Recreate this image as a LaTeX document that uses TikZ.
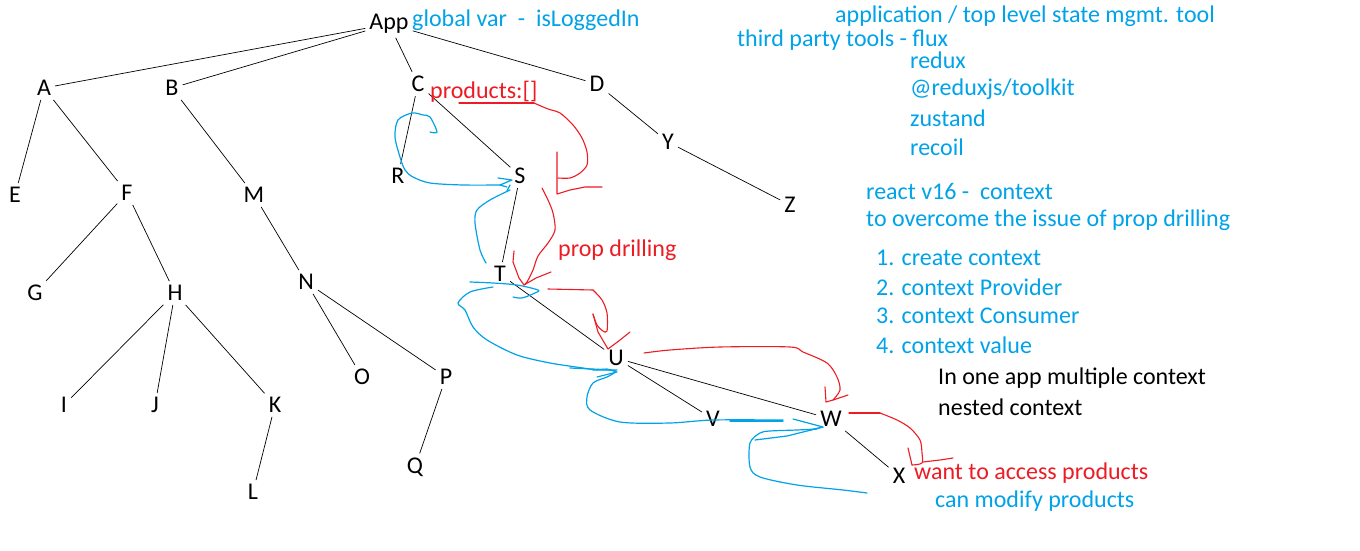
\documentclass[tikz,border=0pt]{standalone}
\usepackage{fontspec}
\setmainfont{Carlito}
\definecolor{pblue}{HTML}{00A2E8}
\definecolor{pred}{HTML}{ED1C24}
\begin{document}
\begin{tikzpicture}[x=1pt,y=-1pt,
  lt/.style={inner sep=4pt, font=\fontsize{24}{28}\selectfont},
  edge/.style={black, line width=0.7pt},
  bt/.style={anchor=west, inner sep=0pt, text=pblue, font=\fontsize{24}{28}\selectfont},
  rt/.style={anchor=west, inner sep=0pt, text=pred, font=\fontsize{24}{28}\selectfont},
  kt/.style={anchor=west, inner sep=0pt, text=black, font=\fontsize{24}{28}\selectfont},
  bl/.style={pblue, line width=1.2pt, line join=round, line cap=round},
  rl/.style={pred, line width=1.1pt, line join=round, line cap=round}]
\useasboundingbox (0,0) rectangle (1360,551);
\fill[white] (0,0) rectangle (1360,551);
% tree nodes
\node[lt] (App) at (389,24) {App};
\node[lt] (A) at (44,88) {A};
\node[lt] (B) at (172,88) {B};
\node[lt] (C) at (418,84) {C};
\node[lt] (D) at (597,84) {D};
\node[lt] (E) at (15,195) {E};
\node[lt] (F) at (127,193) {F};
\node[lt] (M) at (254,195) {M};
\node[lt] (G) at (35,293) {G};
\node[lt] (H) at (175,293) {H};
\node[lt] (N) at (306,282) {N};
\node[lt] (I) at (64,405) {I};
\node[lt] (J) at (155,405) {J};
\node[lt] (K) at (275,405) {K};
\node[lt] (O) at (362,377) {O};
\node[lt] (P) at (446,377) {P};
\node[lt] (L) at (253,492) {L};
\node[lt] (Q) at (415,467) {Q};
\node[lt] (R) at (398,176) {R};
\node[lt] (S) at (520,176) {S};
\node[lt] (Y) at (668,142) {Y};
\node[lt] (Z) at (790,205) {Z};
\node[lt] (T) at (500,274) {T};
\node[lt] (U) at (616,358) {U};
\node[lt] (V) at (713,419) {V};
\node[lt] (W) at (831,419) {W};
\node[lt] (X) at (899,476) {X};
% edges
\draw[edge] (App) -- (A);
\draw[edge] (App) -- (B);
\draw[edge] (App) -- (C);
\draw[edge] (App) -- (D);
\draw[edge] (A) -- (E);
\draw[edge] (A) -- (F);
\draw[edge] (B) -- (M);
\draw[edge] (F) -- (G);
\draw[edge] (F) -- (H);
\draw[edge] (M) -- (N);
\draw[edge] (H) -- (I);
\draw[edge] (H) -- (J);
\draw[edge] (H) -- (K);
\draw[edge] (N) -- (O);
\draw[edge] (N) -- (P);
\draw[edge] (K) -- (L);
\draw[edge] (P) -- (Q);
\draw[edge] (C) -- (R);
\draw[edge] (C) -- (S);
\draw[edge] (D) -- (Y);
\draw[edge] (Y) -- (Z);
\draw[edge] (S) -- (T);
\draw[edge] (T) -- (U);
\draw[edge] (U) -- (V);
\draw[edge] (U) -- (W);
\draw[edge] (W) -- (X);
% texts
\node[bt] (t1) at (412,20) {global var\ \ -\ \ isLoggedIn};
\node[bt] (t2) at (835,16) {application / top level state mgmt. tool};
\node[bt] (t3) at (737,40) {third party tools - flux};
\node[bt] (t4) at (910,60) {redux};
\node[bt] (t5) at (910,89) {@reduxjs/toolkit};
\node[bt] (t6) at (910,118) {zustand};
\node[bt] (t7) at (910,147) {recoil};
\node[bt] (t8) at (866,191) {react v16 -\ \ context};
\node[bt] (t9) at (866,220) {to overcome the issue of prop drilling};
\node[bt] (t10) at (876,258) {1. create context};
\node[bt] (t11) at (876,287) {2. context Provider};
\node[bt] (t12) at (876,316) {3. context Consumer};
\node[bt] (t13) at (876,345) {4. context value};
\node[kt] (t14) at (938,378) {In one app multiple context};
\node[kt] (t15) at (938,407) {nested context};
\node[rt] (t16) at (914,473) {want to access products};
\node[bt] (t17) at (935,501) {can modify products};
\node[rt] (t18) at (430,92) {products:[]};
\node[rt] (t19) at (558,250) {prop drilling};
% red freehand strokes
\draw[rl] (459,103) -- (534,103);
\draw[rl] plot[smooth,tension=0.5] coordinates {(534,103) (548,109) (560,113) (573,125) (582,138) (587,152) (587,165) (580,173) (570,178) (558,178)};
\draw[rl] (557,152) -- (557,194) -- (570,190) -- (585,187) -- (602,187);
\draw[rl] plot[smooth,tension=0.5] coordinates {(542,188) (548,200) (553,213) (555,230) (548,243) (538,256) (533,270) (527,282) (524,285)};
\draw[rl] (514,251) -- (513,262) -- (519,278) -- (524,285) -- (536,278) -- (551,272);
\draw[rl] (548,289) -- (593,290);
\draw[rl] plot[smooth,tension=0.5] coordinates {(593,290) (602,300) (607,313) (607,331) (603,331) (597,325) (593,314)};
\draw[rl] (593,314) -- (598,332) -- (608,349) -- (620,340) -- (630,332);
\draw[rl] plot[smooth,tension=0.5] coordinates {(644,353) (670,350) (720,347) (790,347) (803,352) (827,363) (837,377) (840,390) (833,400)};
\draw[rl] (825,387) -- (826,402) -- (833,400) -- (848,395);
\draw[rl] (849,413) -- (880,413);
\draw[rl] plot[smooth,tension=0.5] coordinates {(880,413) (897,420) (910,428) (920,440) (922,453) (922,463) (912,465)};
\draw[rl] (908,448) -- (912,465);
\draw[rl] (923,462) -- (940,460) -- (953,458);
% blue freehand strokes
\draw[bl] plot[smooth,tension=0.5] coordinates {(430,132) (437,132) (430,117) (423,115) (412,113) (398,120) (395,137) (400,157) (405,170) (413,177) (430,183) (463,185) (500,185)};
\draw[bl] (498,178) -- (512,180) -- (500,185) -- (507,187);
\draw[bl] plot[smooth,tension=0.5] coordinates {(486,263) (480,250) (475,223) (477,210) (490,200) (510,190)};
\draw[bl] (510,185) -- (507,191);
\draw[bl] plot[smooth,tension=0.5] coordinates {(470,282) (493,283) (517,285) (538,290) (535,293) (522,298) (513,297)};
\draw[bl] plot[smooth,tension=0.5] coordinates {(493,287) (470,292) (458,303) (465,310) (473,327) (487,340) (517,355) (550,363) (583,368) (597,370) (617,370)};
\draw[bl] (593,370) -- (607,369) -- (617,372) -- (597,377);
\draw[bl] plot[smooth,tension=0.5] coordinates {(570,368) (610,370) (615,372) (607,377) (593,383) (587,397) (590,410) (620,422) (670,423) (713,420) (783,420)};
\draw[bl] (793,419) -- (823,427) -- (810,430);
\draw[bl] (823,427) -- (787,436) -- (755,440);
\draw[bl] (730,421) -- (783,421);
\draw[bl] plot[smooth,tension=0.5] coordinates {(817,429) (797,430) (770,431) (760,433) (750,443) (750,467) (760,477) (797,485) (843,490) (867,493)};
\end{tikzpicture}
\end{document}
